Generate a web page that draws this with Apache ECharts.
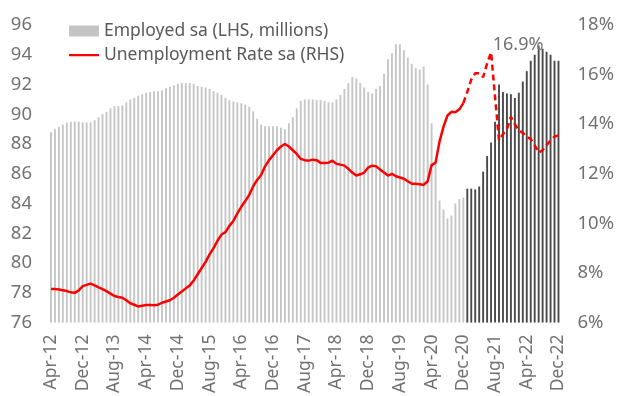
<!DOCTYPE html>
<html>
<head>
<meta charset="utf-8">
<script src="https://cdn.jsdelivr.net/npm/echarts@6/dist/echarts.min.js"></script>
<style>
html,body{margin:0;padding:0;background:#fff;}
#chart{width:617px;height:396px;}
</style>
</head>
<body>
<div id="chart"></div>
<script>
// Months Apr-12 .. Dec-22
const monthNames = ['Jan','Feb','Mar','Apr','May','Jun','Jul','Aug','Sep','Oct','Nov','Dec'];
const startYear = 2012, startMonth = 3, monthCount = 129;
const categories = [];
for (let k = 0; k < monthCount; k++) {
  const m = (startMonth + k) % 12;
  const y = startYear + Math.floor((startMonth + k) / 12);
  categories.push(monthNames[m] + '-' + String(y).slice(2));
}

// Employed sa (LHS, millions)
const employed = [
  88.8, 89.0, 89.15, 89.3, 89.45, 89.5, 89.5, 89.5, 89.45, 89.45,
  89.45, 89.6, 89.8, 90.0, 90.15, 90.4, 90.55, 90.55, 90.6, 90.8,
  91.0, 91.1, 91.25, 91.35, 91.45, 91.5, 91.55, 91.55, 91.6, 91.75,
  91.85, 91.95, 92.05, 92.1, 92.1, 92.1, 92.05, 91.9, 91.85, 91.8,
  91.7, 91.55, 91.45, 91.3, 91.1, 90.95, 90.85, 90.8, 90.75, 90.65,
  90.5, 90.2, 89.7, 89.3, 89.2, 89.2, 89.2, 89.2, 89.1, 89.0,
  89.4, 89.8, 90.4, 90.9, 91.0, 91.0, 91.0, 90.95, 90.95, 90.9,
  90.8, 90.8, 91.0, 91.3, 91.7, 92.1, 92.5, 92.4, 92.1, 91.8,
  91.5, 91.4, 91.7, 91.9, 92.7, 93.7, 94.1, 94.7, 94.7, 94.3,
  93.8, 93.4, 93.1, 93.0, 93.2, 92.0, 89.4, 86.7, 84.2, 83.6,
  83.0, 83.2, 84.0, 84.3, 84.4,
  85.0, 85.0, 84.95, 85.15, 86.15, 87.2, 88.1, 89.5, 92.0, 91.5,
  91.4, 91.35, 91.1, 91.45, 92.2, 92.9, 93.6, 94.0, 94.6, 94.4,
  94.2, 94.0, 93.6, 93.6
];
// Unemployment Rate sa (RHS, %)
const unemployment = [
  7.35, 7.35, 7.33, 7.3, 7.27, 7.22, 7.2, 7.3, 7.47, 7.52,
  7.57, 7.5, 7.42, 7.35, 7.27, 7.17, 7.07, 7.03, 7.0, 6.9,
  6.78, 6.72, 6.65, 6.68, 6.71, 6.71, 6.7, 6.72, 6.8, 6.85,
  6.9, 7.0, 7.13, 7.25, 7.38, 7.5, 7.7, 7.95, 8.2, 8.45,
  8.75, 9.0, 9.3, 9.55, 9.65, 9.9, 10.1, 10.4, 10.67, 10.9,
  11.15, 11.5, 11.75, 11.95, 12.3, 12.55, 12.75, 12.95, 13.1, 13.2,
  13.1, 12.95, 12.8, 12.6, 12.55, 12.53, 12.57, 12.55, 12.44, 12.44,
  12.45, 12.53, 12.4, 12.37, 12.33, 12.2, 12.05, 11.93, 11.98, 12.05,
  12.25, 12.33, 12.3, 12.17, 12.05, 11.93, 12.0, 11.9, 11.85, 11.8,
  11.7, 11.6, 11.6, 11.58, 11.55, 11.7, 12.35, 12.45, 13.3, 13.9,
  14.35, 14.5, 14.48, 14.6, 14.85, 15.3, 15.8, 16.05, 16.05, 15.9,
  16.45, 16.9, 15.1, 13.35, 13.6, 13.8, 14.3, 14.0, 13.75, 13.65,
  13.5, 13.4, 13.15, 12.85, 12.95, 13.15, 13.35, 13.5, 13.55
];
const leftTicks = { min: 76, max: 96, interval: 2 };
const rightTicks = { min: 6, max: 18, interval: 2 };
const darkStart = 105;   // first dark bar (Jan-21)
const dashStart = 104;   // dashed line from Dec-20

const solidLine = unemployment.map((v, i) => i <= dashStart ? v : null);
const dashedLine = unemployment.map((v, i) => i >= dashStart ? v : null);

const FONT = 'Noto Sans';
const GREY = '#727272';
const LINE_ICON = 'path://M0,0L0.01,0L0.01,0.01L0,0.01Z M0,4.5L30,4.5L30,6.7L0,6.7Z M0,10.99L0.01,10.99L0.01,11L0,11Z';
const chart = echarts.init(document.getElementById('chart'), null, { renderer: 'canvas' });
chart.setOption({
  animation: false,
  backgroundColor: '#ffffff',
  textStyle: { fontFamily: FONT },
  grid: { left: 49, right: 56, top: 25, bottom: 71 },
  legend: {
    orient: 'vertical', left: 69, top: 22, padding: 0,
    itemWidth: 30, itemHeight: 11, itemGap: 6,
    textStyle: { fontSize: 17.5, lineHeight: 18, color: '#595959', fontFamily: FONT },
    data: [
      { name: 'Employed sa (LHS, millions)', icon: 'rect', itemStyle: { color: '#c4c4c4' } },
      { name: 'Unemployment Rate sa (RHS)', icon: LINE_ICON, itemStyle: { color: '#ff0000' } }
    ]
  },
  xAxis: {
    type: 'category', data: categories, boundaryGap: true,
    axisLine: { show: false }, axisTick: { show: false },
    axisLabel: { rotate: 90, interval: 7, margin: 12, fontSize: 17.5, color: GREY, fontFamily: FONT }
  },
  yAxis: [
    {
      type: 'value', min: leftTicks.min, max: leftTicks.max, interval: leftTicks.interval,
      splitLine: { show: false }, axisLine: { show: false }, axisTick: { show: false },
      axisLabel: { margin: 17, fontSize: 18.5, color: GREY, fontFamily: FONT }
    },
    {
      type: 'value', min: rightTicks.min, max: rightTicks.max, interval: rightTicks.interval,
      splitLine: { show: false }, axisLine: { show: false }, axisTick: { show: false },
      axisLabel: { margin: 17, fontSize: 18.5, color: GREY, fontFamily: FONT, formatter: '{value}%' }
    }
  ],
  series: [
    {
      name: 'Employed sa (LHS, millions)', type: 'bar', yAxisIndex: 0,
      data: employed, barWidth: '48%',
      itemStyle: { color: p => p.dataIndex >= darkStart ? '#4a4a4a' : '#c6c6c6' }
    },
    {
      name: 'Unemployment Rate sa (RHS)', type: 'line', yAxisIndex: 1,
      data: solidLine, symbol: 'none', connectNulls: false,
      lineStyle: { color: '#ff0000', width: 2.5 }, itemStyle: { color: '#ff0000' }
    },
    {
      name: 'Unemployment Rate dashed', type: 'line', yAxisIndex: 1,
      data: dashedLine, symbol: 'none', connectNulls: false,
      lineStyle: { color: '#ff0000', width: 2.5, type: [6, 4] }, itemStyle: { color: '#ff0000' },
      markPoint: {
        symbol: 'circle', symbolSize: 0,
        data: [{ type: 'max' }],
        label: { show: true, position: 'top', offset: [27, 7], formatter: '{c}%', fontSize: 18, color: GREY, fontFamily: FONT }
      }
    }
  ]
});
</script>
</body>
</html>
